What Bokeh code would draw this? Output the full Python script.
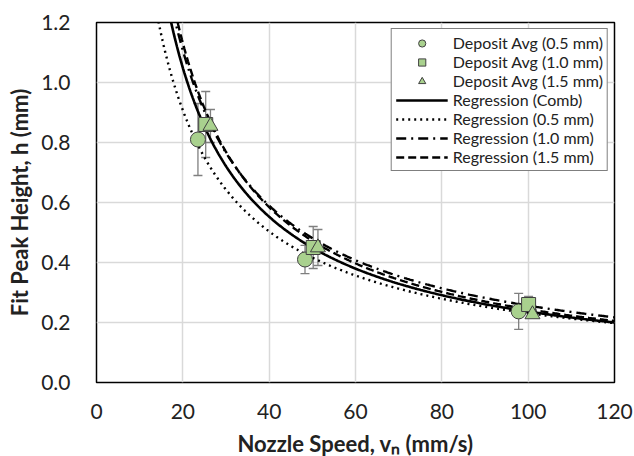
import numpy as np
from bokeh.plotting import figure
from bokeh.models import ColumnDataSource, Whisker, TeeHead, Range1d, FixedTicker, CustomJSTickFormatter
from bokeh.embed import file_html
from bokeh.resources import INLINE

# ---- data ----
speed_05 = [23.5, 48.3, 97.8]
height_05 = [0.81, 0.41, 0.237]
err_05 = [0.12, 0.047, 0.06]

speed_10 = [25.3, 50.2, 100.1]
height_10 = [0.86, 0.45, 0.26]
err_10 = [0.11, 0.07, 0.027]

speed_15 = [26.4, 51.3, 101.0]
height_15 = [0.855, 0.45, 0.227]
err_15 = [0.055, 0.06, 0.01]

# power-law regressions h = a * v^b
reg_names = ["Regression (Comb)", "Regression (0.5 mm)", "Regression (1.0 mm)", "Regression (1.5 mm)"]
reg_a = [16.76, 11.58, 16.86, 19.66]
reg_b = [-0.925, -0.850, -0.909, -0.953]
reg_dash = ["solid", "2 4", "10 5 2 5", "8 4"]

x_ticks = [0, 20, 40, 60, 80, 100, 120]
y_ticks = [0.0, 0.2, 0.4, 0.6, 0.8, 1.0, 1.2]

FONT = "Lato"
FILL = "#a9d18e"
EDGE = "#404040"

p = figure(frame_width=518, frame_height=360, output_backend="svg", toolbar_location=None,
           x_range=Range1d(0, 120), y_range=Range1d(0, 1.2),
           min_border_left=96, min_border_right=20, min_border_top=22, min_border_bottom=74)
p.background_fill_color = "white"
p.border_fill_color = "white"
p.outline_line_color = "black"
p.outline_line_width = 1.5

p.xaxis.ticker = FixedTicker(ticks=x_ticks)
p.yaxis.ticker = FixedTicker(ticks=y_ticks)
p.yaxis.formatter = CustomJSTickFormatter(code="return tick.toFixed(1);")

for ax in (p.xaxis, p.yaxis):
    ax.major_tick_line_color = None
    ax.minor_tick_line_color = None
    ax.axis_line_color = None
    ax.major_label_text_font = FONT
    ax.major_label_text_font_size = "21px"
    ax.major_label_text_color = "#222222"
    ax.axis_label_text_font = FONT
    ax.axis_label_text_font_size = "22px"
    ax.axis_label_text_font_style = "bold"
    ax.axis_label_text_color = "#222222"

p.xaxis.axis_label = "Nozzle Speed, vₙ (mm/s)"
p.yaxis.axis_label = "Fit Peak Height, h (mm)"
p.xaxis.major_label_standoff = 15
p.yaxis.major_label_standoff = 20
p.xaxis.axis_label_standoff = 8
p.yaxis.axis_label_standoff = 5

p.xgrid.grid_line_color = "#d9d9d9"
p.ygrid.grid_line_color = "#d9d9d9"
p.xgrid.grid_line_width = 1.5
p.ygrid.grid_line_width = 1.5

# error bars
for sx, sy, se in [(speed_05, height_05, err_05), (speed_10, height_10, err_10), (speed_15, height_15, err_15)]:
    src = ColumnDataSource(dict(x=sx, lower=[y - e for y, e in zip(sy, se)], upper=[y + e for y, e in zip(sy, se)]))
    w = Whisker(source=src, base="x", lower="lower", upper="upper", dimension="height",
                line_color="#7f7f7f", line_width=1.3,
                upper_head=TeeHead(size=9, line_color="#7f7f7f", line_width=1.3),
                lower_head=TeeHead(size=9, line_color="#7f7f7f", line_width=1.3))
    p.add_layout(w)

# regression curves
vs = np.linspace(8, 120, 400)
for name, a, b, dash in zip(reg_names, reg_a, reg_b, reg_dash):
    hs = a * vs ** b
    p.line(vs, hs, line_color="black", line_width=2.6 if dash == "solid" else 2.4,
           line_dash=dash, legend_label=name)

# markers
p.scatter(speed_05, height_05, marker="circle", size=15, fill_color=FILL, line_color=EDGE,
          line_width=1, legend_label="Deposit Avg (0.5 mm)")
p.scatter(speed_10, height_10, marker="square", size=14, fill_color=FILL, line_color=EDGE,
          line_width=1, legend_label="Deposit Avg (1.0 mm)")
p.scatter(speed_15, height_15, marker="triangle", size=15, fill_color=FILL, line_color=EDGE,
          line_width=1, legend_label="Deposit Avg (1.5 mm)")

# reorder legend: markers first
items = p.legend[0].items
p.legend[0].items = items[4:] + items[:4]

lg = p.legend[0]
lg.location = "top_right"
lg.margin = 6
lg.border_line_color = "black"
lg.border_line_width = 1.2
lg.background_fill_color = "white"
lg.background_fill_alpha = 1
lg.label_text_font = FONT
lg.label_text_font_size = "16px"
lg.label_text_color = "#222222"
lg.label_height = 18
lg.glyph_height = 18
lg.glyph_width = 52
lg.label_standoff = 5
lg.spacing = 0
lg.padding = 4

open("out.html", "w").write(file_html(p, INLINE))
